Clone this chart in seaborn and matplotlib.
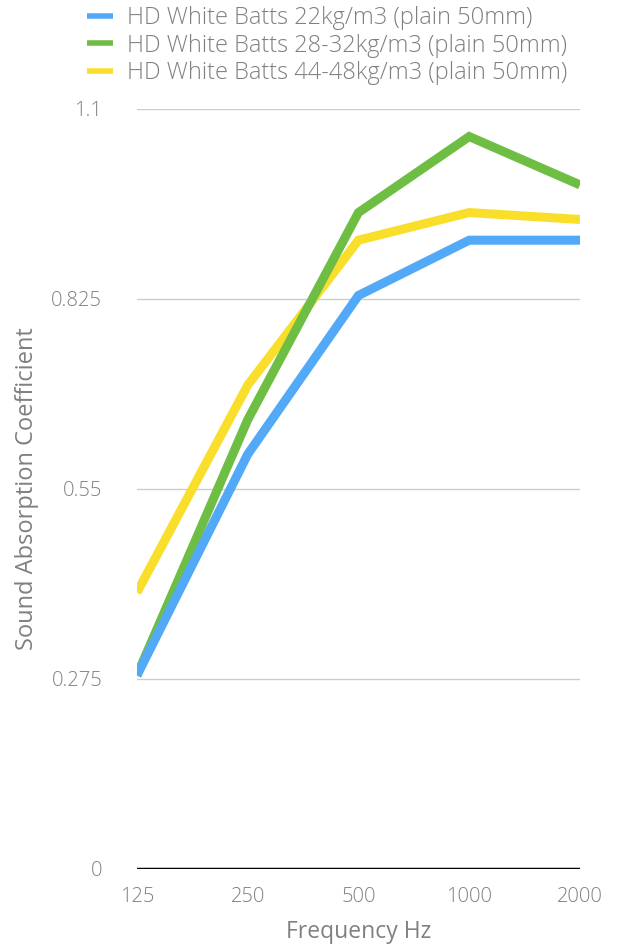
import pandas as pd
import numpy as np
import matplotlib.pyplot as plt
import seaborn as sns
from matplotlib.lines import Line2D

# ========== Data ==========

freqs = ['125', '250', '500', '1000', '2000']
series = ['HD White Batts 22kg/m3 (plain 50mm)',
          'HD White Batts 28-32kg/m3 (plain 50mm)',
          'HD White Batts 44-48kg/m3 (plain 50mm)']
batts_22 = [0.28, 0.60, 0.83, 0.91, 0.91]
batts_28_32 = [0.28, 0.65, 0.95, 1.06, 0.99]
batts_44_48 = [0.40, 0.70, 0.91, 0.95, 0.94]
colors = ['#52a9f7', '#6fbe44', '#f9df2c']
yticks = [0, 0.275, 0.55, 0.825, 1.1]
ytick_labels = ['0', '0.275', '0.55', '0.825', '1.1']

df = pd.DataFrame({
    'freq': freqs * 3,
    'value': batts_22 + batts_28_32 + batts_44_48,
    'series': np.repeat(series, len(freqs)),
})

# ========== Plot ==========

sns.set_style('white')
plt.rcParams['font.family'] = ['Open Sans', 'DejaVu Sans']
plt.rcParams['font.weight'] = 'light'
grey = '#808080'

fig = plt.figure(figsize=(6.25, 9.47), dpi=100)
ax = fig.add_axes([0.219, 0.0824, 0.709, 0.8026])

## draw in reverse so the blue line sits on top
for name, col in reversed(list(zip(series, colors))):
    sns.lineplot(data=df[df['series'] == name], x='freq', y='value',
                 color=col, linewidth=6.5, ax=ax, legend=False,
                 solid_capstyle='butt', solid_joinstyle='miter')

ax.set_xlim(0, len(freqs) - 1)
ax.set_ylim(0, 1.1)
ax.set_yticks(yticks)
ax.set_yticklabels(ytick_labels)
ax.set_xticks(range(len(freqs)))
ax.set_xticklabels(freqs)

for y in yticks[1:]:
    ax.axhline(y, color='#cccccc', linewidth=1, zorder=0)
ax.axhline(0, color='black', linewidth=2.5, zorder=1)

for s in ax.spines.values():
    s.set_visible(False)
ax.tick_params(axis='both', length=0, labelsize=14.5, labelcolor=grey)
ax.tick_params(axis='y', pad=25)
ax.tick_params(axis='x', pad=13)

ax.set_xlabel('Frequency Hz', fontsize=16.5, color=grey, labelpad=9)
ax.set_ylabel('Sound Absorption Coefficient', fontsize=17, color=grey)
ax.yaxis.set_label_coords(-0.222, 0.5)

handles = [Line2D([0], [0], color=c, linewidth=4, solid_capstyle='butt')
           for c in colors]
fig.legend(handles, series, loc='upper left', bbox_to_anchor=(0.105, 1.016),
           frameon=False, fontsize=17, labelcolor=grey, handlelength=1.1,
           handletextpad=0.6, labelspacing=0.15)

plt.savefig('out.png', dpi=100)
